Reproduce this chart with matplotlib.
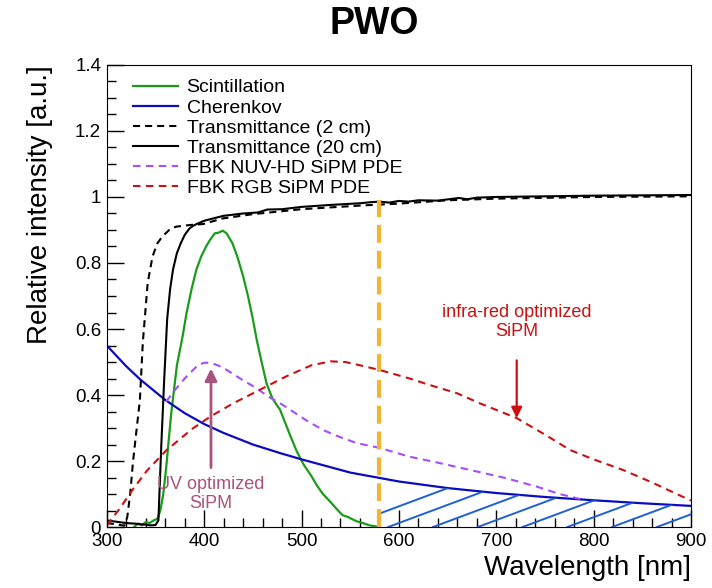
import numpy as np
import matplotlib
matplotlib.use("Agg")
import matplotlib.pyplot as plt
from matplotlib.patches import Polygon
from matplotlib.ticker import MultipleLocator

plt.rcParams["font.family"] = ["Liberation Sans", "DejaVu Sans"]

# ===============================
# Data
# ===============================

# Transmittance, 20 cm sample (solid black)
trans20_wl = [300, 310, 320, 330, 340, 345, 350, 353, 356, 359, 362, 365, 368,
              372, 376, 380, 385, 390, 400, 420, 440, 455, 465, 480, 500, 530,
              560, 570, 580, 590, 600, 610, 620, 640, 662, 670, 680, 700, 750,
              800, 850, 900]
trans20_val = [0.02, 0.016, 0.012, 0.01, 0.007, 0.005, 0.006, 0.02, 0.25, 0.45,
               0.63, 0.72, 0.78, 0.83, 0.86, 0.885, 0.905, 0.915, 0.928, 0.943,
               0.95, 0.953, 0.962, 0.963, 0.97, 0.976, 0.981, 0.984, 0.986,
               0.983, 0.988, 0.986, 0.99, 0.989, 0.997, 0.993, 0.998, 1.0, 1.002,
               1.004, 1.005, 1.006]

# Transmittance, 2 cm sample (dashed black)
trans2_wl = [300, 310, 318, 321, 324, 327, 330, 334, 337, 342, 347, 352, 357,
             364, 371, 385, 399, 419, 450, 500, 560, 580, 600, 650, 700, 800, 900]
trans2_val = [0.012, 0.008, 0.004, 0.03, 0.1, 0.2, 0.28, 0.385, 0.56, 0.74,
              0.82, 0.86, 0.88, 0.9, 0.91, 0.915, 0.918, 0.935, 0.948, 0.963,
              0.974, 0.977, 0.98, 0.99, 0.995, 1.0, 1.002]

# PWO scintillation emission (green)
scint_wl = [328, 332, 336, 340, 344, 348, 352, 355, 358, 361, 366, 372, 378,
            382, 387, 392, 397, 402, 406, 411, 415, 419, 423, 429, 434, 440,
            445, 450, 454, 459, 464, 470, 478, 488, 495, 502, 510, 516, 522,
            530, 536, 542, 548, 556, 563, 570, 580]
scint_val = [0.0, 0.01, 0.005, 0.015, 0.012, 0.02, 0.025, 0.05, 0.1, 0.18,
             0.34, 0.49, 0.58, 0.65, 0.72, 0.78, 0.82, 0.85, 0.87, 0.89, 0.892,
             0.898, 0.89, 0.86, 0.82, 0.76, 0.7, 0.63, 0.567, 0.5, 0.436,
             0.39, 0.355, 0.28, 0.23, 0.19, 0.155, 0.125, 0.1, 0.075, 0.055,
             0.036, 0.03, 0.018, 0.012, 0.005, 0.0]

# Cherenkov spectrum (blue)
cher_wl = [300, 320, 334, 360, 380, 400, 420, 450, 478, 500, 550, 600, 650,
           700, 750, 800, 850, 900]
cher_val = [0.55, 0.487, 0.448, 0.385, 0.345, 0.312, 0.285, 0.25, 0.224, 0.205,
            0.165, 0.138, 0.118, 0.103, 0.091, 0.081, 0.072, 0.064]

# FBK NUV-HD SiPM PDE (purple dashed)
nuv_wl = [361, 370, 380, 390, 395, 401, 407, 414, 422, 437, 454, 466, 478,
          490, 505, 522, 540, 557, 580, 611, 640, 673, 710, 742, 765, 786]
nuv_val = [0.38, 0.415, 0.45, 0.48, 0.493, 0.498, 0.497, 0.49, 0.478, 0.45,
           0.42, 0.395, 0.375, 0.352, 0.323, 0.294, 0.272, 0.254, 0.24, 0.213,
           0.195, 0.173, 0.148, 0.122, 0.1, 0.085]

# FBK RGB SiPM PDE (red dashed)
rgb_wl = [300, 313, 327, 341, 361, 388, 407, 430, 460, 484, 510, 530, 545,
          560, 580, 611, 632, 660, 683, 721, 750, 776, 800, 830, 860, 900]
rgb_val = [0.005, 0.055, 0.115, 0.17, 0.232, 0.298, 0.336, 0.375, 0.42, 0.456,
           0.49, 0.502, 0.5, 0.49, 0.476, 0.45, 0.43, 0.405, 0.375, 0.33,
           0.28, 0.233, 0.205, 0.173, 0.135, 0.08]

# cut-off of the filter (orange dashed line)
cutoff_wl = 580
cutoff_top = 0.99

# annotations: (x, text y, arrow start y, arrow tip y)
uv_note = (407, 0.1, 0.18, 0.48)
ir_note = (721, 0.62, 0.505, 0.33)

# ===============================
# Figure
# ===============================

fig = plt.figure(figsize=(7.12, 5.88), dpi=100)
ax = fig.add_axes([0.150, 0.1037, 0.8205, 0.7858])

ax.plot(scint_wl, scint_val, color="#1a9c1a", lw=1.6, label="Scintillation")
ax.plot(cher_wl, cher_val, color="#0b0bbf", lw=1.6, label="Cherenkov")
ax.plot(trans2_wl, trans2_val, color="black", lw=1.5, ls=(0, (3.4, 2.4)),
        label="Transmittance (2 cm)")
ax.plot(trans20_wl, trans20_val, color="black", lw=1.5,
        label="Transmittance (20 cm)")
ax.plot(nuv_wl, nuv_val, color="#a64dff", lw=1.5, ls=(0, (3.6, 2.6)),
        label="FBK NUV-HD SiPM PDE")
ax.plot(rgb_wl, rgb_val, color="#cc1010", lw=1.5, ls=(0, (3.6, 2.6)),
        label="FBK RGB SiPM PDE")

ax.vlines(cutoff_wl, 0, cutoff_top, color="#f0b534", lw=3,
          linestyles=[(0, (4.3, 1.9))], zorder=3)

# hatched region below the Cherenkov curve, right of the cut-off
cher_wl_arr = np.array(cher_wl, dtype=float)
cher_val_arr = np.array(cher_val, dtype=float)
mask = cher_wl_arr > cutoff_wl
hx = np.concatenate([[cutoff_wl], cher_wl_arr[mask]])
hy = np.concatenate([[np.interp(cutoff_wl, cher_wl_arr, cher_val_arr)],
                     cher_val_arr[mask]])
verts = np.column_stack([np.concatenate([hx, hx[::-1]]),
                         np.concatenate([hy, np.zeros_like(hy)])])
region = Polygon(verts, closed=True, facecolor="none", edgecolor="none")
ax.add_patch(region)
slope = 0.0011
for x0 in np.arange(543, 905, 46):
    xs = np.array([x0, x0 + 200])
    ln, = ax.plot(xs, slope * (xs - x0), color="#1f5fd6", lw=1.4)
    ln.set_clip_path(region)

# annotations
ax.annotate("", xy=(uv_note[0], uv_note[3]), xytext=(uv_note[0], uv_note[2]),
            arrowprops=dict(arrowstyle="-|>", color="#a8527e", lw=2,
                            mutation_scale=18, shrinkA=0, shrinkB=0))
ax.text(uv_note[0], uv_note[1], "UV optimized\nSiPM", color="#a8527e",
        fontsize=13, ha="center", va="center", linespacing=1.15)
ax.annotate("", xy=(ir_note[0], ir_note[3]), xytext=(ir_note[0], ir_note[2]),
            arrowprops=dict(arrowstyle="-|>", color="#cc1010", lw=1.6,
                            mutation_scale=16, shrinkA=0, shrinkB=0))
ax.text(ir_note[0], ir_note[1], "infra-red optimized\nSiPM", color="#cc1010",
        fontsize=13, ha="center", va="center", linespacing=1.15)

ax.set_xlim(300, 900)
ax.set_ylim(0, 1.4)
ax.xaxis.set_major_locator(MultipleLocator(100))
ax.xaxis.set_minor_locator(MultipleLocator(20))
ax.yaxis.set_major_locator(MultipleLocator(0.2))
ax.yaxis.set_minor_locator(MultipleLocator(0.05))
ax.yaxis.set_major_formatter(lambda v, p: f"{v:g}")
ax.tick_params(which="both", direction="in", top=False, right=False,
               labelsize=13.5)
ax.tick_params(which="major", length=12, width=1)
ax.tick_params(which="minor", length=6.5, width=1)
ax.tick_params(axis="x", pad=4)
ax.tick_params(axis="y", pad=4)

ax.set_xlabel("Wavelength [nm]", fontsize=20, loc="right", labelpad=4)
ax.set_ylabel("Relative intensity [a.u.]", fontsize=20, loc="top",
              labelpad=16)
fig.suptitle("PWO", fontsize=27, fontweight="bold", x=0.526, y=0.99)

ax.legend(loc="upper left", bbox_to_anchor=(0.045, 0.97), frameon=False,
          fontsize=14, handlelength=2.3, handletextpad=0.45, labelspacing=0.13,
          borderaxespad=0, borderpad=0)

fig.savefig("out.png", dpi=100)
